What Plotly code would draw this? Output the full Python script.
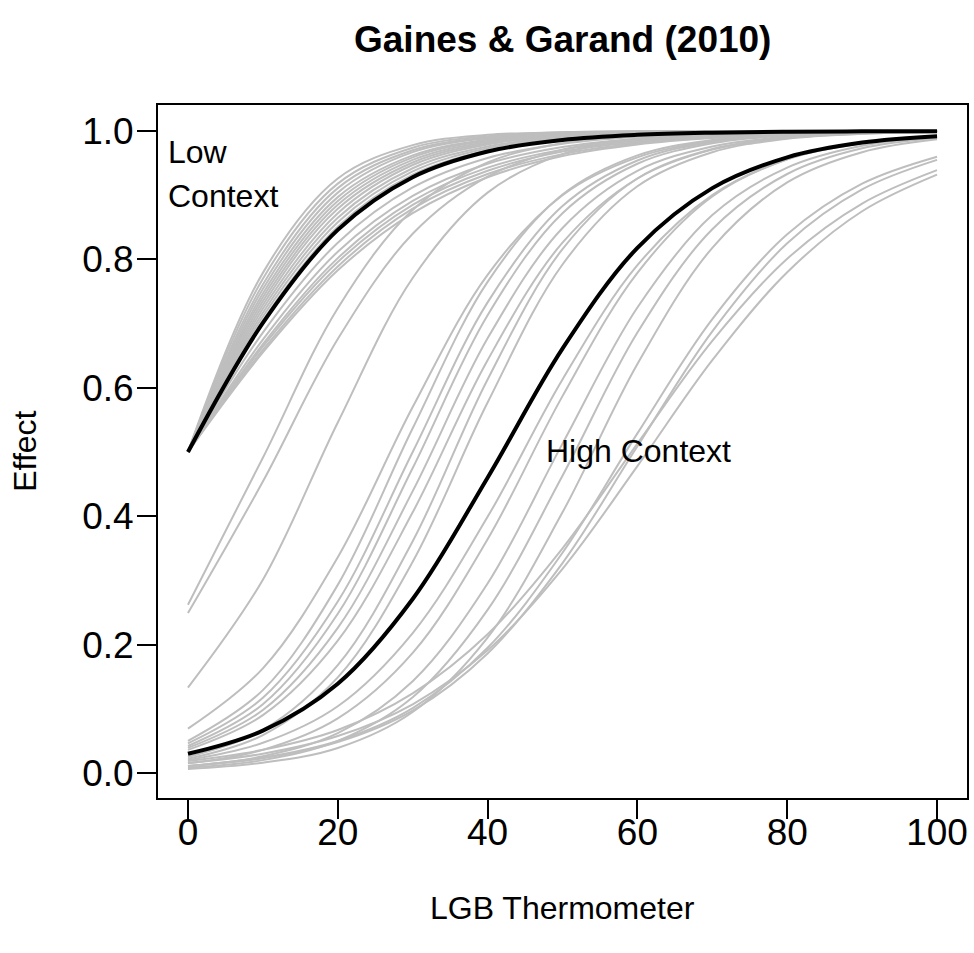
import plotly.graph_objects as go

# Thermometer grid (x values at which curves were read)
X_GRID = [0, 10, 20, 30, 40, 50, 60, 70, 80, 90, 100]

# Simulated low-context curves (gray)
LOW_CONTEXT_SIMS = [
    [0.5, 0.779, 0.926, 0.978, 0.994, 0.998, 0.9995, 0.9999, 1.0, 1.0, 1.0],
    [0.5, 0.770, 0.918, 0.974, 0.992, 0.998, 0.9993, 0.9998, 1.0, 1.0, 1.0],
    [0.5, 0.761, 0.911, 0.970, 0.990, 0.997, 0.9991, 0.9997, 0.9999, 1.0, 1.0],
    [0.5, 0.754, 0.904, 0.967, 0.989, 0.996, 0.9988, 0.9996, 0.9999, 1.0, 1.0],
    [0.5, 0.747, 0.897, 0.962, 0.987, 0.9955, 0.9985, 0.9995, 0.9998, 0.9999, 1.0],
    [0.5, 0.741, 0.891, 0.959, 0.985, 0.995, 0.998, 0.9994, 0.9998, 0.9999, 1.0],
    [0.5, 0.735, 0.885, 0.955, 0.983, 0.994, 0.998, 0.9992, 0.9997, 0.9999, 1.0],
    [0.5, 0.729, 0.879, 0.951, 0.981, 0.993, 0.9974, 0.999, 0.9996, 0.9999, 1.0],
    [0.5, 0.723, 0.872, 0.947, 0.979, 0.992, 0.997, 0.9988, 0.9995, 0.9998, 0.9999],
    [0.5, 0.717, 0.865, 0.942, 0.976, 0.9905, 0.9962, 0.9985, 0.9994, 0.9998, 0.9999],
    [0.5, 0.711, 0.858, 0.937, 0.973, 0.989, 0.9955, 0.998, 0.9993, 0.9997, 0.9999],
    [0.5, 0.705, 0.851, 0.932, 0.970, 0.987, 0.9946, 0.9977, 0.9991, 0.9996, 0.9998],
    [0.5, 0.686, 0.826, 0.912, 0.958, 0.980, 0.991, 0.9958, 0.998, 0.9991, 0.9996],
    [0.5, 0.675, 0.812, 0.899, 0.949, 0.975, 0.988, 0.994, 0.997, 0.9986, 0.9993],
    [0.5, 0.668, 0.802, 0.891, 0.943, 0.971, 0.985, 0.9926, 0.9963, 0.9982, 0.9991],
    [0.5, 0.664, 0.796, 0.885, 0.938, 0.968, 0.983, 0.9915, 0.9957, 0.9978, 0.9989],
    [0.5, 0.659, 0.789, 0.879, 0.933, 0.964, 0.981, 0.990, 0.995, 0.9974, 0.9986],
    [0.5, 0.655, 0.783, 0.872, 0.928, 0.961, 0.979, 0.989, 0.994, 0.997, 0.9983],
]

# Simulated high-context curves (gray)
HIGH_CONTEXT_SIMS = [
    [0.262, 0.491, 0.724, 0.877, 0.951, 0.981, 0.993, 0.9974, 0.9991, 0.9997, 0.9999],
    [0.249, 0.454, 0.676, 0.840, 0.929, 0.971, 0.988, 0.995, 0.998, 0.9992, 0.9997],
    [0.133, 0.301, 0.546, 0.771, 0.904, 0.964, 0.987, 0.995, 0.998, 0.9994, 0.9998],
    [0.069, 0.163, 0.336, 0.570, 0.776, 0.900, 0.959, 0.984, 0.994, 0.9976, 0.9991],
    [0.050, 0.129, 0.293, 0.537, 0.765, 0.901, 0.962, 0.986, 0.995, 0.9982, 0.9994],
    [0.046, 0.117, 0.267, 0.500, 0.733, 0.883, 0.954, 0.983, 0.9936, 0.9977, 0.9992],
    [0.042, 0.107, 0.248, 0.475, 0.713, 0.872, 0.949, 0.981, 0.993, 0.9974, 0.9991],
    [0.039, 0.098, 0.226, 0.439, 0.677, 0.849, 0.938, 0.976, 0.991, 0.9966, 0.9987],
    [0.036, 0.090, 0.206, 0.406, 0.643, 0.826, 0.926, 0.971, 0.989, 0.9957, 0.9984],
    [0.025, 0.067, 0.168, 0.361, 0.613, 0.816, 0.926, 0.972, 0.990, 0.9964, 0.9987],
    [0.022, 0.059, 0.149, 0.329, 0.577, 0.792, 0.914, 0.967, 0.988, 0.9957, 0.9984],
    [0.020, 0.047, 0.104, 0.218, 0.399, 0.613, 0.791, 0.900, 0.956, 0.981, 0.992],
    [0.015, 0.036, 0.085, 0.187, 0.364, 0.587, 0.779, 0.898, 0.956, 0.982, 0.9926],
    [0.0105, 0.026, 0.062, 0.143, 0.295, 0.513, 0.725, 0.869, 0.943, 0.977, 0.9905],
    [0.008, 0.020, 0.050, 0.118, 0.254, 0.463, 0.686, 0.847, 0.933, 0.973, 0.989],
    [0.006, 0.016, 0.039, 0.095, 0.211, 0.406, 0.637, 0.818, 0.920, 0.967, 0.987],
    [0.0185, 0.036, 0.067, 0.124, 0.216, 0.350, 0.513, 0.673, 0.801, 0.887, 0.939],
    [0.0155, 0.030, 0.0575, 0.107, 0.191, 0.318, 0.478, 0.643, 0.780, 0.875, 0.932],
    [0.011, 0.024, 0.050, 0.101, 0.195, 0.343, 0.529, 0.707, 0.839, 0.918, 0.960],
    [0.011, 0.023, 0.048, 0.097, 0.186, 0.327, 0.509, 0.688, 0.825, 0.909, 0.955],
]

# Point-estimate curves (black)
LOW_CONTEXT_MEAN = [0.5, 0.701, 0.846, 0.928, 0.968, 0.986, 0.994, 0.9974, 0.9989, 0.9995, 0.9998]
HIGH_CONTEXT_MEAN = [0.030, 0.066, 0.139, 0.271, 0.460, 0.661, 0.818, 0.911, 0.959, 0.982, 0.992]

X_TICKS = [0, 20, 40, 60, 80, 100]
Y_TICKS = [0.0, 0.2, 0.4, 0.6, 0.8, 1.0]
Y_TICK_TEXT = ["0.0", "0.2", "0.4", "0.6", "0.8", "1.0"]

FONT = "Liberation Sans, Arial, Helvetica, sans-serif"

fig = go.Figure()
for ys in LOW_CONTEXT_SIMS + HIGH_CONTEXT_SIMS:
    fig.add_trace(go.Scatter(x=X_GRID, y=ys, mode="lines",
                             line=dict(color="#BEBEBE", width=2, shape="spline", smoothing=1.0),
                             hoverinfo="skip", showlegend=False))
for ys in [LOW_CONTEXT_MEAN, HIGH_CONTEXT_MEAN]:
    fig.add_trace(go.Scatter(x=X_GRID, y=ys, mode="lines",
                             line=dict(color="black", width=4, shape="spline", smoothing=1.0),
                             hoverinfo="skip", showlegend=False))

axis_common = dict(showgrid=False, zeroline=False, showline=True, linecolor="black",
                   linewidth=2, mirror=True, ticks="outside", ticklen=19, tickwidth=2,
                   tickcolor="black", tickfont=dict(family=FONT, size=37, color="black"))

fig.update_layout(
    width=974, height=953, autosize=False,
    margin=dict(l=158, r=5, t=105, b=155, pad=0),
    paper_bgcolor="white", plot_bgcolor="white",
    font=dict(family=FONT, color="black"),
    showlegend=False,
    xaxis=dict(range=[-4, 104], tickmode="array", tickvals=X_TICKS,
               ticklabelstandoff=-18, **axis_common),
    yaxis=dict(range=[-0.039, 1.0405], tickmode="array", tickvals=Y_TICKS,
               ticktext=Y_TICK_TEXT, ticklabelstandoff=-4, **axis_common),
    annotations=[
        dict(text="Gaines & Garand (2010)", x=0.5, y=1.0938, xref="paper", yref="paper",
             xanchor="center", yanchor="middle", showarrow=False,
             font=dict(family=FONT, size=37, color="black", weight="bold")),
        dict(text="LGB Thermometer", x=0.5, y=-0.1587, xref="paper", yref="paper",
             xanchor="center", yanchor="middle", showarrow=False,
             font=dict(family=FONT, size=32, color="black")),
        dict(text="Effect", x=-0.1653, y=0.5, xref="paper", yref="paper", textangle=-90,
             xanchor="center", yanchor="middle", showarrow=False,
             font=dict(family=FONT, size=32, color="black")),
        dict(text="Low", x=-2.93, y=0.967, xref="x", yref="y", xanchor="left",
             yanchor="middle", showarrow=False, font=dict(family=FONT, size=32, color="black")),
        dict(text="Context", x=-2.93, y=0.899, xref="x", yref="y", xanchor="left",
             yanchor="middle", showarrow=False, font=dict(family=FONT, size=32, color="black")),
        dict(text="High Context", x=60.1, y=0.502, xref="x", yref="y", xanchor="center",
             yanchor="middle", showarrow=False, font=dict(family=FONT, size=32, color="black")),
    ],
)

fig.write_html("out.html")
